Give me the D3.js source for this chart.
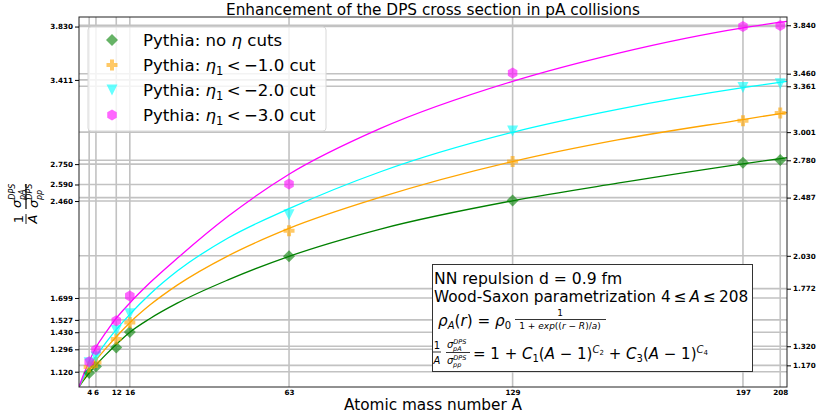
<!DOCTYPE html>
<html><head><meta charset="utf-8">
<script src="https://cdn.jsdelivr.net/npm/d3@7"></script>
<style>body{margin:0;background:#fff}svg{display:block}text{font-family:"DejaVu Sans",sans-serif}</style>
</head><body>
<script>
// ---- data ----
const massA = [4, 6, 12, 16, 63, 129, 197, 208];
const noCut = [1.110, 1.160, 1.310, 1.432, 2.027, 2.465, 2.760, 2.782];
const cut1 = [1.157, 1.193, 1.377, 1.507, 2.227, 2.771, 3.090, 3.151];
const cut2 = [1.190, 1.235, 1.444, 1.575, 2.352, 3.009, 3.352, 3.381];
const cut3 = [1.199, 1.293, 1.520, 1.715, 2.593, 3.465, 3.830, 3.838];
// fitted curves
const fitA = [1, 2, 4, 6, 9, 12, 16, 22, 30, 45, 63, 90, 129, 160, 197, 210];
const fitNoCut = [1.0, 1.04, 1.11, 1.172, 1.256, 1.334, 1.43, 1.538, 1.658, 1.841, 2.026, 2.24, 2.462, 2.60, 2.752, 2.80];
const fitCut1 = [1.0, 1.05, 1.135, 1.21, 1.305, 1.395, 1.505, 1.645, 1.80, 2.03, 2.245, 2.49, 2.77, 2.94, 3.10, 3.155];
const fitCut2 = [1.0, 1.06, 1.155, 1.24, 1.35, 1.45, 1.57, 1.73, 1.91, 2.17, 2.40, 2.69, 3.00, 3.18, 3.35, 3.40];
const fitCut3 = [1.0, 1.075, 1.20, 1.31, 1.43, 1.54, 1.66, 1.82, 2.01, 2.34, 2.67, 3.03, 3.40, 3.62, 3.82, 3.87];
const xTicks = [4, 6, 12, 16, 63, 129, 197, 208];
const leftTicks = [1.120, 1.296, 1.430, 1.527, 1.699, 2.460, 2.590, 2.750, 3.411, 3.830];
const rightTicks = [1.170, 1.320, 1.772, 2.030, 2.487, 2.780, 3.001, 3.361, 3.460, 3.840];
const labels = ["no", "−1.0", "−2.0", "−3.0"];

const W = 826, H = 413;
const M = {l: 79, r: 787, t: 17, b: 387};
const x = d3.scaleLinear().domain([1, 210]).range([M.l, M.r]);
const y = d3.scaleLinear().domain([1.0, 3.905]).range([M.b, M.t]);

const svg = d3.select("body").append("svg").attr("width", W).attr("height", H);
svg.append("defs").append("clipPath").attr("id", "clip")
  .append("rect").attr("x", M.l).attr("y", M.t).attr("width", M.r - M.l).attr("height", M.b - M.t);

// grid
const grid = svg.append("g").attr("stroke", "#c2c2c2").attr("stroke-width", 1.6);
leftTicks.concat(rightTicks).forEach(v => grid.append("line").attr("x1", M.l).attr("x2", M.r).attr("y1", y(v)).attr("y2", y(v)));
xTicks.forEach(v => grid.append("line").attr("y1", M.t).attr("y2", M.b).attr("x1", x(v)).attr("x2", x(v)));

const series = [
  {vals: noCut, fit: fitNoCut, line: "#008000", fill: "#008000", shape: "diamond"},
  {vals: cut1, fit: fitCut1, line: "#ffa500", fill: "#ffa500", shape: "plus"},
  {vals: cut2, fit: fitCut2, line: "#00ffff", fill: "#00ffff", shape: "tri"},
  {vals: cut3, fit: fitCut3, line: "#ff00ff", fill: "#ff00ff", shape: "hex"}
];

function shapePath(s) {
  if (s === "diamond") return "M0,-6L6,0L0,6L-6,0Z";
  if (s === "plus") return "M-2,-5.5H2V-2H5.5V2H2V5.5H-2V2H-5.5V-2H-2Z";
  if (s === "tri") return "M-5.5,-5.5L5.5,-5.5L0,5.5Z";
  const r = 5.5; let p = "";
  for (let i = 0; i < 6; i++) { const a = Math.PI / 3 * i + Math.PI / 6; p += (i ? "L" : "M") + (r * Math.cos(a)).toFixed(2) + "," + (r * Math.sin(a)).toFixed(2); }
  return p + "Z";
}

const line = d3.line().x(d => x(d[0])).y(d => y(d[1])).curve(d3.curveMonotoneX);
const plot = svg.append("g").attr("clip-path", "url(#clip)");
series.forEach(s => {
  plot.append("path").attr("d", line(fitA.map((a, i) => [a, s.fit[i]])))
    .attr("fill", "none").attr("stroke", s.line).attr("stroke-width", 1.3);
});
series.forEach(s => {
  plot.selectAll(null).data(massA.map((a, i) => [a, s.vals[i]])).enter().append("path")
    .attr("d", shapePath(s.shape)).attr("transform", d => `translate(${x(d[0])},${y(d[1])})`)
    .attr("fill", s.fill).attr("fill-opacity", 0.6);
});

// frame
svg.append("rect").attr("x", M.l).attr("y", M.t).attr("width", M.r - M.l).attr("height", M.b - M.t)
  .attr("fill", "none").attr("stroke", "#222").attr("stroke-width", 1);

// axes
const fmt = d3.format(".3f");
const axL = svg.append("g").attr("transform", `translate(${M.l},0)`)
  .call(d3.axisLeft(y).tickValues(leftTicks).tickFormat(fmt).tickSize(4).tickPadding(2));
const axR = svg.append("g").attr("transform", `translate(${M.r},0)`)
  .call(d3.axisRight(y).tickValues(rightTicks).tickFormat(fmt).tickSize(4).tickPadding(2));
const axB = svg.append("g").attr("transform", `translate(0,${M.b})`)
  .call(d3.axisBottom(x).tickValues(xTicks).tickFormat(d3.format("d")).tickSize(0).tickPadding(3));
[axL, axR, axB].forEach(g => {
  g.select(".domain").remove();
  g.selectAll("text").attr("font-size", 7.2).attr("font-weight", "bold").attr("fill", "#000")
    .attr("font-family", "DejaVu Sans");
  g.selectAll("line").attr("stroke", "#000");
});

// title + x label
svg.append("text").attr("x", 433).attr("y", 15).attr("text-anchor", "middle").attr("font-size", 15.3)
  .text("Enhancement of the DPS cross section in pA collisions");
svg.append("text").attr("x", 433).attr("y", 410).attr("text-anchor", "middle").attr("font-size", 15.3)
  .text("Atomic mass number A");

// y label (rotated)
const yl = svg.append("g").attr("transform", "translate(27,204) rotate(-90)");
yl.append("text").attr("x", -15).attr("y", -4).attr("text-anchor", "middle").attr("font-size", 13).text("1");
yl.append("line").attr("x1", -20).attr("x2", -10).attr("y1", -1).attr("y2", -1).attr("stroke", "#000").attr("stroke-width", 0.9);
yl.append("text").attr("x", -15).attr("y", 10).attr("text-anchor", "middle").attr("font-size", 13).attr("font-style", "italic").text("A");
function sig(g, xx, yy, sub) {
  const t = g.append("text").attr("x", xx).attr("y", yy).attr("font-size", 13).attr("font-style", "italic");
  t.append("tspan").text("σ");
  t.append("tspan").attr("font-size", 8).attr("dy", -6).text("DPS");
  t.append("tspan").attr("font-size", 8).attr("x", xx + 8).attr("dy", 10).text(sub);
}
sig(yl, -4, -6, "pA");
yl.append("line").attr("x1", -5).attr("x2", 20).attr("y1", -1).attr("y2", -1).attr("stroke", "#000").attr("stroke-width", 1.2);
sig(yl, -4, 11, "pp");

// legend
const lg = svg.append("g");
lg.append("rect").attr("x", 88).attr("y", 27).attr("width", 238).attr("height", 104).attr("rx", 3)
  .attr("fill", "#fff").attr("fill-opacity", 0.8).attr("stroke", "#d8d8d8");
series.forEach((s, i) => {
  const cy = 40 + i * 25;
  lg.append("path").attr("d", shapePath(s.shape)).attr("transform", `translate(112,${cy})`)
    .attr("fill", s.fill).attr("fill-opacity", 0.6);
  const t = lg.append("text").attr("x", 143).attr("y", cy + 6).attr("font-size", 16.6);
  if (i === 0) {
    t.append("tspan").text("Pythia: no ");
    t.append("tspan").attr("font-style", "italic").text("η");
    t.append("tspan").text(" cuts");
  } else {
    t.append("tspan").text("Pythia: ");
    t.append("tspan").attr("font-style", "italic").text("η");
    t.append("tspan").attr("font-size", 11.5).attr("dy", 4).text("1");
    t.append("tspan").attr("dy", -4).text("\u2009<\u2009" + labels[i] + " cut");
  }
});

// text box
const tb = svg.append("g");
tb.append("rect").attr("x", 432.5).attr("y", 264.5).attr("width", 320).attr("height", 107)
  .attr("fill", "#fff").attr("stroke", "#333").attr("stroke-width", 1);
tb.append("text").attr("x", 434).attr("y", 284).attr("font-size", 15.6).text("NN repulsion d = 0.9 fm");
const t2 = tb.append("text").attr("x", 434).attr("y", 302).attr("font-size", 15.3);
t2.append("tspan").text("Wood-Saxon parametrization 4\u2009≤\u2009");
t2.append("tspan").attr("font-style", "italic").text("A");
t2.append("tspan").text("\u2009≤\u2009208");
const t3 = tb.append("text").attr("x", 438).attr("y", 326).attr("font-size", 15.2);
t3.append("tspan").attr("font-style", "italic").text("ρ");
t3.append("tspan").attr("font-style", "italic").attr("font-size", 10).attr("dy", 3).text("A");
t3.append("tspan").attr("dy", -3).text("(");
t3.append("tspan").attr("font-style", "italic").text("r");
t3.append("tspan").text(") = ");
t3.append("tspan").attr("font-style", "italic").text("ρ");
t3.append("tspan").attr("font-size", 10).attr("dy", 3).text("0");
tb.append("text").attr("x", 560).attr("y", 316).attr("text-anchor", "middle").attr("font-size", 9).text("1");
tb.append("line").attr("x1", 515).attr("x2", 606).attr("y1", 319.5).attr("y2", 319.5).attr("stroke", "#000").attr("stroke-width", 0.8);
const den = tb.append("text").attr("x", 560).attr("y", 329).attr("text-anchor", "middle").attr("font-size", 9);
den.append("tspan").text("1 + ");
den.append("tspan").attr("font-style", "italic").text("exp");
den.append("tspan").text("((");
den.append("tspan").attr("font-style", "italic").text("r");
den.append("tspan").text(" − ");
den.append("tspan").attr("font-style", "italic").text("R");
den.append("tspan").text(")/");
den.append("tspan").attr("font-style", "italic").text("a");
den.append("tspan").text(")");
// line 4
tb.append("text").attr("x", 437).attr("y", 349).attr("text-anchor", "middle").attr("font-size", 10).text("1");
tb.append("line").attr("x1", 433).attr("x2", 441).attr("y1", 352).attr("y2", 352).attr("stroke", "#000").attr("stroke-width", 0.8);
tb.append("text").attr("x", 437).attr("y", 364).attr("text-anchor", "middle").attr("font-size", 10).attr("font-style", "italic").text("A");
function sig2(xx, yy, sub) {
  const t = tb.append("text").attr("x", xx).attr("y", yy).attr("font-size", 10).attr("font-style", "italic");
  t.append("tspan").text("σ");
  t.append("tspan").attr("font-size", 6.5).attr("dy", -4).text("DPS");
  t.append("tspan").attr("font-size", 6.5).attr("x", xx + 6).attr("dy", 7).text(sub);
}
sig2(447, 348, "pA");
tb.append("line").attr("x1", 446).attr("x2", 470).attr("y1", 352.5).attr("y2", 352.5).attr("stroke", "#000").attr("stroke-width", 0.8);
sig2(447, 364, "pp");
const t4 = tb.append("text").attr("x", 473).attr("y", 359).attr("font-size", 15);
t4.append("tspan").text("= 1 + ");
t4.append("tspan").attr("font-style", "italic").text("C");
t4.append("tspan").attr("font-size", 10).attr("dy", 3).text("1");
t4.append("tspan").attr("dy", -3).text("(");
t4.append("tspan").attr("font-style", "italic").text("A");
t4.append("tspan").text(" − 1)");
t4.append("tspan").attr("font-style", "italic").attr("font-size", 10).attr("dy", -6).text("C");
t4.append("tspan").attr("font-size", 7).attr("dy", 2).text("2");
t4.append("tspan").attr("dy", 4).text(" + ");
t4.append("tspan").attr("font-style", "italic").text("C");
t4.append("tspan").attr("font-size", 10).attr("dy", 3).text("3");
t4.append("tspan").attr("dy", -3).text("(");
t4.append("tspan").attr("font-style", "italic").text("A");
t4.append("tspan").text(" − 1)");
t4.append("tspan").attr("font-style", "italic").attr("font-size", 10).attr("dy", -6).text("C");
t4.append("tspan").attr("font-size", 7).attr("dy", 2).text("4");
</script>
</body></html>
